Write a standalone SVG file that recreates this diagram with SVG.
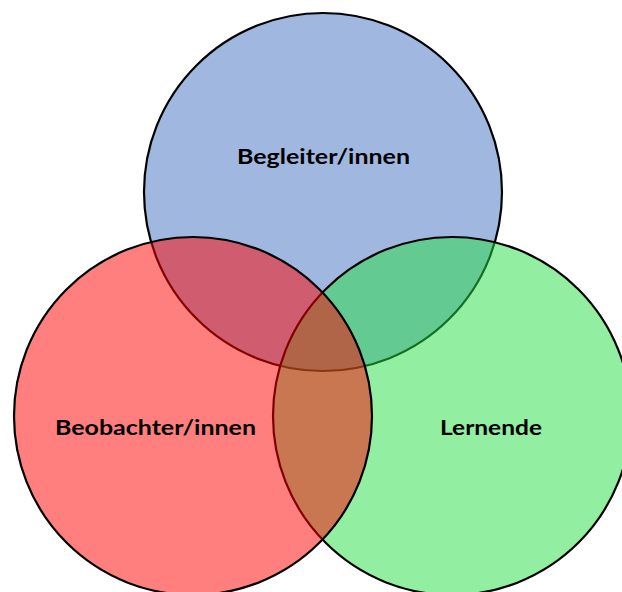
<svg xmlns="http://www.w3.org/2000/svg" width="622" height="592" viewBox="0 0 622 592">
<style>
.c{stroke:#000;stroke-width:2.2}
.t{font-family:Lato,"Liberation Sans",Arial,sans-serif;font-weight:bold;font-size:21px;fill:#000;text-anchor:middle}
</style>
<rect width="622" height="592" fill="#fff"/>
<g id="begleiter">
<circle class="c" cx="323" cy="192" r="179" fill="#a0b8e0"/>
</g>
<g id="lernende">
<circle class="c" cx="452" cy="416" r="179" fill="#25dd41" fill-opacity="0.5"/>
</g>
<g id="beobachter">
<circle class="c" cx="193" cy="416" r="179" fill="#ff0000" fill-opacity="0.5"/>
</g>
<g id="labels">
<text class="t" x="323.5" y="164" textLength="173" lengthAdjust="spacingAndGlyphs">Begleiter/innen</text>
<text class="t" x="155.5" y="435" textLength="201" lengthAdjust="spacingAndGlyphs">Beobachter/innen</text>
<text class="t" x="491" y="435" textLength="102" lengthAdjust="spacingAndGlyphs">Lernende</text>
</g>
</svg>
